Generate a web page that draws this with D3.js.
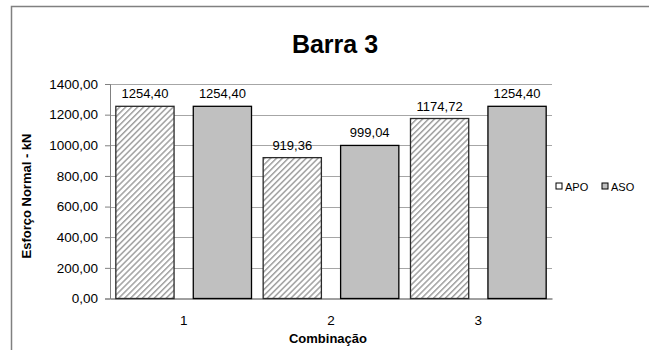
<!DOCTYPE html>
<html>
<head>
<meta charset="utf-8">
<script src="https://cdn.jsdelivr.net/npm/d3@7"></script>
<style>
  html, body { margin: 0; padding: 0; background: #fff; }
  svg { display: block; }
  text { font-family: "Liberation Sans", Arial, sans-serif; fill: #000; }
</style>
</head>
<body>
<svg id="chart" width="649" height="350"></svg>
<script>
// Esforço normal na barra 3 por combinação
const categories = ["1", "2", "3"];
const seriesNames = ["APO", "ASO"];
const apoValues = [1254.40, 919.36, 1174.72];
const asoValues = [1254.40, 999.04, 1254.40];
const yTicks = [0, 200, 400, 600, 800, 1000, 1200, 1400];

const fmt = v => d3.format(".2f")(v).replace(".", ",");

const svg = d3.select("#chart");
const W = 649, H = 350;
const plot = { left: 110, right: 552, top: 84, bottom: 298.5 };

// outer frame (top and left edges visible)
svg.append("path")
  .attr("d", `M11.5,${H} V6.5 H${W}`)
  .attr("fill", "none").attr("stroke", "#808080").attr("stroke-width", 1.5);

// hatch pattern for APO
const defs = svg.append("defs");
const pat = defs.append("pattern")
  .attr("id", "hatch").attr("patternUnits", "userSpaceOnUse")
  .attr("width", 4.2).attr("height", 4.2)
  .attr("patternTransform", "rotate(45)");
pat.append("rect").attr("width", 4.2).attr("height", 4.2).attr("fill", "#fff");
pat.append("rect").attr("width", 1.5).attr("height", 4.2).attr("fill", "#a0a0a0");

const x0 = d3.scaleBand().domain(categories).range([plot.left, plot.right]).paddingInner(0).paddingOuter(0);
const y = d3.scaleLinear().domain([0, 1400]).range([plot.bottom, plot.top]);

// bar geometry: gap width 20%, overlap -33%
const bw = x0.bandwidth() / 2.53;
const innerGap = 0.33 * bw;

// gridlines
svg.append("g").selectAll("line").data(yTicks.filter(t => t > 0)).join("line")
  .attr("x1", plot.left).attr("x2", plot.right)
  .attr("y1", d => Math.round(y(d)) + 0.5).attr("y2", d => Math.round(y(d)) + 0.5)
  .attr("stroke", "#a6a6a6").attr("stroke-width", 1);

// y axis
const yAxis = d3.axisLeft(y).tickValues(yTicks).tickFormat(fmt).tickSize(5).tickPadding(7);
const gy = svg.append("g").attr("transform", `translate(${plot.left},0)`).call(yAxis);
gy.select(".domain").attr("stroke", "#808080");
gy.selectAll(".tick line").attr("stroke", "#808080");
gy.selectAll(".tick text").attr("font-size", 13.5).attr("font-family", "Liberation Sans, Arial, sans-serif").attr("fill", "#000");

// x axis
const xAxis = d3.axisBottom(x0).tickSize(0).tickPadding(17);
const gx = svg.append("g").attr("transform", `translate(0,${plot.bottom})`).call(xAxis);
gx.select(".domain").attr("stroke", "#808080").attr("stroke-width", 1.5);
gx.selectAll(".tick text").attr("font-size", 13.5).attr("font-family", "Liberation Sans, Arial, sans-serif").attr("fill", "#000");

// bars
const rows = categories.map((c, i) => ({ c, apo: apoValues[i], aso: asoValues[i] }));
const groups = svg.append("g").selectAll("g").data(rows).join("g");
const barX = (d, k) => {
  const center = x0(d.c) + x0.bandwidth() / 2;
  const total = 2 * bw + innerGap;
  return center - total / 2 + k * (bw + innerGap);
};
groups.append("rect")
  .attr("x", d => barX(d, 0)).attr("y", d => y(d.apo))
  .attr("width", bw).attr("height", d => plot.bottom - y(d.apo))
  .attr("fill", "url(#hatch)").attr("stroke", "#2a2a2a").attr("stroke-width", 1.3);
groups.append("rect")
  .attr("x", d => barX(d, 1)).attr("y", d => y(d.aso))
  .attr("width", bw).attr("height", d => plot.bottom - y(d.aso))
  .attr("fill", "#c0c0c0").attr("stroke", "#000").attr("stroke-width", 1.3);

// value labels
groups.append("text")
  .attr("x", d => barX(d, 0) + bw / 2).attr("y", d => y(d.apo) - 8)
  .attr("text-anchor", "middle").attr("font-size", 13).text(d => fmt(d.apo));
groups.append("text")
  .attr("x", d => barX(d, 1) + bw / 2).attr("y", d => y(d.aso) - 8)
  .attr("text-anchor", "middle").attr("font-size", 13).text(d => fmt(d.aso));

// title
svg.append("text").attr("x", 335).attr("y", 53).attr("text-anchor", "middle")
  .attr("font-size", 25).attr("font-weight", "bold").text("Barra 3");

// axis titles
svg.append("text").attr("x", (plot.left + plot.right) / 2 - 3).attr("y", 343)
  .attr("text-anchor", "middle").attr("font-size", 13).attr("font-weight", "bold").text("Combinação");
svg.append("text")
  .attr("transform", `translate(31,196) rotate(-90)`)
  .attr("text-anchor", "middle").attr("font-size", 13).attr("font-weight", "bold").text("Esforço Normal - kN");

// legend
const legend = svg.append("g").attr("transform", "translate(556,183)");
const items = legend.selectAll("g").data(seriesNames).join("g")
  .attr("transform", (d, i) => `translate(${i * 46},0)`);
items.append("rect").attr("width", 6).attr("height", 6)
  .attr("fill", (d, i) => i === 0 ? "#fff" : "#c0c0c0")
  .attr("stroke", "#000").attr("stroke-width", 1);
items.append("text").attr("x", 9).attr("y", 7.5).attr("font-size", 11).text(d => d);
</script>
</body>
</html>
